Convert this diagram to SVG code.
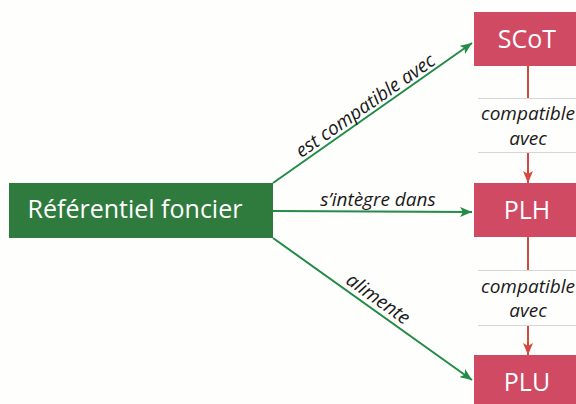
<svg xmlns="http://www.w3.org/2000/svg" width="576" height="404" viewBox="0 0 576 404">
<defs>
<style>
.lbl{font-family:"Open Sans","Noto Sans",sans-serif;font-style:italic;font-size:19px;fill:#1a1a1a}
.node-text{font-family:"Open Sans","Noto Sans",sans-serif;font-size:25px;fill:#ffffff}
.green-box{fill:#2f7b3e}
.red-box{fill:#cf4a62}
.g-line{stroke:#238a48;stroke-width:2;fill:none}
.r-line{stroke:#d5483f;stroke-width:2;fill:none}
.sep{stroke:#d6d6d6;stroke-width:1}
</style>
<marker id="ga" viewBox="0 0 12 10" refX="12" refY="5" markerWidth="12" markerHeight="10" markerUnits="userSpaceOnUse" orient="auto">
<path d="M0,0 L12,5 L0,10 L3,5 Z" fill="#238a48"/>
</marker>
<marker id="ra" viewBox="0 0 10 12" refX="5" refY="12" markerWidth="10" markerHeight="12" markerUnits="userSpaceOnUse" orient="0">
<path d="M0,0 L5,12 L10,0 L5,3 Z" fill="#d5483f"/>
</marker>
</defs>
<rect width="576" height="404" fill="#fefefc"/>

<g id="connectors">
<line class="g-line" x1="273" y1="183" x2="472" y2="43" marker-end="url(#ga)"/>
<line class="g-line" x1="273" y1="211" x2="472" y2="212" marker-end="url(#ga)"/>
<line class="g-line" x1="273" y1="238" x2="472" y2="380" marker-end="url(#ga)"/>
<line class="r-line" x1="528" y1="66" x2="528" y2="98"/>
<line class="r-line" x1="528" y1="152" x2="528" y2="183" marker-end="url(#ra)"/>
<line class="r-line" x1="528" y1="237" x2="528" y2="270"/>
<line class="r-line" x1="528" y1="325" x2="528" y2="355" marker-end="url(#ra)"/>
<line class="sep" x1="478" y1="98.5" x2="576" y2="98.5"/>
<line class="sep" x1="478" y1="152.5" x2="576" y2="152.5"/>
<line class="sep" x1="478" y1="270.5" x2="576" y2="270.5"/>
<line class="sep" x1="478" y1="325.5" x2="576" y2="325.5"/>
<text class="lbl" text-anchor="middle" transform="translate(273,183) rotate(-35)" x="120" y="-4">est compatible avec</text>
<text class="lbl" text-anchor="middle" x="378" y="206">s’intègre dans</text>
<text class="lbl" text-anchor="middle" transform="translate(273,238) rotate(35.4)" x="121" y="-5">alimente</text>
<text class="lbl" text-anchor="middle" x="528" y="120">compatible</text>
<text class="lbl" text-anchor="middle" x="528" y="145">avec</text>
<text class="lbl" text-anchor="middle" x="528" y="293">compatible</text>
<text class="lbl" text-anchor="middle" x="528" y="317">avec</text>
</g>

<g id="referentiel">
<rect class="green-box" x="9" y="183" width="264" height="55"/>
<text class="node-text" text-anchor="middle" x="135" y="218">Référentiel foncier</text>
</g>
<g id="scot">
<rect class="red-box" x="474" y="12" width="110" height="54"/>
<text class="node-text" text-anchor="middle" x="527" y="48">SCoT</text>
</g>
<g id="plh">
<rect class="red-box" x="474" y="183" width="110" height="54"/>
<text class="node-text" text-anchor="middle" x="527" y="219">PLH</text>
</g>
<g id="plu">
<rect class="red-box" x="474" y="355" width="110" height="54"/>
<text class="node-text" text-anchor="middle" x="527" y="391">PLU</text>
</g>
</svg>
